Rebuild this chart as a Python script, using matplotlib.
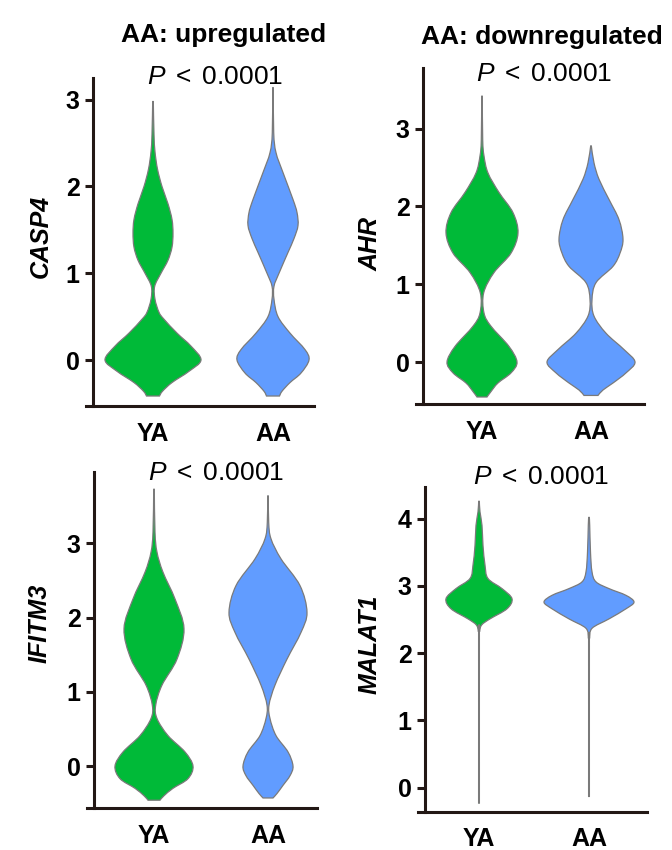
import numpy as np
import matplotlib
matplotlib.use("Agg")
import matplotlib.pyplot as plt
from matplotlib.path import Path
from matplotlib.patches import PathPatch

plt.rcParams["font.family"] = ["Liberation Sans", "DejaVu Sans"]
plt.rcParams["mathtext.fontset"] = "custom"
plt.rcParams["mathtext.it"] = "Liberation Sans:italic"
plt.rcParams["mathtext.rm"] = "Liberation Sans"

groups = ["YA", "AA"]
colors = ["#00BA38", "#619CFF"]
genes = ["CASP4", "AHR", "IFITM3", "MALAT1"]
titles = ["AA: upregulated", "AA: downregulated", "", ""]
pvalue_text = r"$P\,$ < $\,$0.0001"
yticks = [[0, 1, 2, 3], [0, 1, 2, 3], [0, 1, 2, 3], [0, 1, 2, 3, 4]]

# violin outlines: expression level and half-width (px)
casp4_ya_y = [-0.415, -0.36, -0.26, -0.13, 0.0, 0.16, 0.31, 0.47, 0.55, 0.7, 0.85, 1.0, 1.15, 1.3, 1.46, 1.62, 1.8, 2.0, 2.2, 2.4, 2.6, 2.98]
casp4_ya_w = [6.5, 9.5, 19, 36, 48, 38, 24, 11, 6, 2, 1.7, 8, 15, 19, 20, 19, 15, 9, 4.5, 2, 1, 0.3]
casp4_aa_y = [-0.415, -0.36, -0.26, -0.15, 0.0, 0.12, 0.31, 0.5, 0.7, 0.85, 1.0, 1.24, 1.4, 1.55, 1.7, 1.85, 2.16, 2.39, 2.62, 3.14]
casp4_aa_w = [6.5, 9, 17, 28, 36, 32, 17, 5, 1, 1, 6, 15, 21, 25, 24, 20, 10, 3, 0.7, 0.3]

ahr_ya_y = [-0.45, -0.38, -0.27, -0.14, 0.0, 0.2, 0.46, 0.63, 0.89, 1.15, 1.4, 1.66, 1.92, 2.18, 2.43, 2.65, 2.86, 3.42]
ahr_ya_w = [5, 9, 16, 29, 35, 27, 9, 2, 1.7, 12, 29, 36, 31, 17, 6, 2, 0.7, 0.3]
ahr_aa_y = [-0.43, -0.36, -0.27, -0.14, 0.0, 0.16, 0.37, 0.59, 0.8, 1.02, 1.23, 1.4, 1.58, 1.83, 2.09, 2.35, 2.56, 2.78]
ahr_aa_w = [7, 12, 22, 35, 44, 33, 15, 3, 1, 5, 22, 29, 32, 28, 18, 8, 3, 0.3]

ifitm3_ya_y = [-0.46, -0.4, -0.3, -0.17, 0.0, 0.19, 0.41, 0.64, 0.82, 1.09, 1.44, 1.85, 2.25, 2.61, 2.88, 3.15, 3.73]
ifitm3_ya_w = [6, 10, 19, 34, 39, 31, 14, 3, 1.7, 8, 23, 30, 21, 9, 3, 1, 0.3]
ifitm3_aa_y = [-0.43, -0.37, -0.26, -0.13, 0.0, 0.19, 0.41, 0.64, 0.82, 1.09, 1.44, 1.8, 2.07, 2.43, 2.79, 3.06, 3.28, 3.64]
ifitm3_aa_w = [5, 9, 15, 22, 25, 20, 8, 2, 1, 7, 19, 33, 39, 32, 13, 3, 0.7, 0.3]

malat1_ya_y = [-0.23, 2.2, 2.32, 2.42, 2.51, 2.66, 2.81, 2.96, 3.11, 3.31, 3.6, 3.9, 4.1, 4.26]
malat1_ya_w = [0.4, 0.4, 0.6, 2.7, 11, 28, 33, 23, 9, 6, 4, 3, 1, 0.3]
malat1_aa_y = [-0.13, 2.1, 2.22, 2.37, 2.51, 2.66, 2.76, 2.86, 2.96, 3.06, 3.21, 3.5, 3.9, 4.02]
malat1_aa_w = [0.4, 0.4, 0.6, 3, 20, 37, 45, 37, 20, 7, 3, 1.5, 0.7, 0.3]

profiles = [
    [(casp4_ya_y, casp4_ya_w), (casp4_aa_y, casp4_aa_w)],
    [(ahr_ya_y, ahr_ya_w), (ahr_aa_y, ahr_aa_w)],
    [(ifitm3_ya_y, ifitm3_ya_w), (ifitm3_aa_y, ifitm3_aa_w)],
    [(malat1_ya_y, malat1_ya_w), (malat1_aa_y, malat1_aa_w)],
]

W, H = 672, 850
fig = plt.figure(figsize=(W / 100, H / 100), dpi=100)
INK = "#231815"

# panel layout in pixels: left, top, right, bottom, spine x, violin centres, ylim
panels = [
    (86, 78, 314, 406, 93, (153, 273), (-0.53, 3.25)),
    (416, 68, 644, 404, 423, (482, 591), (-0.54, 3.78)),
    (87, 472, 317, 808, 94, (154, 268), (-0.565, 3.96)),
    (418, 487, 647, 812, 425, (479, 589), (-0.36, 4.47)),
]
xpads = [11.5, 11.5, 11.5, 11]
ylabel_xy = [(41, 236), (371, 244), (40, 623), (370, 644)]
title_xy = [(224, 42), (542, 44)]
pval_xy = [(215, 84), (544, 81), (216, 480), (541, 484)]


def smooth_side(pts, xc, sign):
    # Catmull-Rom through the outline points, as cubic Bezier segments
    n = len(pts)
    verts = []
    for i in range(n - 1):
        p0 = pts[max(i - 1, 0)]
        p1 = pts[i]
        p2 = pts[i + 1]
        p3 = pts[min(i + 2, n - 1)]
        c1 = p1 + (p2 - p0) / 6.0
        c2 = p2 - (p3 - p1) / 6.0
        for c in (c1, c2):
            if sign * (c[0] - xc) < 0:
                c[0] = xc
        verts += [c1, c2, p2]
    return verts


def violin(ax, xc, ys, ws, scale, color):
    ys = np.asarray(ys, float)
    hw = np.asarray(ws, float) / scale
    right = np.column_stack([xc + hw, ys])
    left = np.column_stack([xc - hw, ys])[::-1]
    verts = [right[0]]
    codes = [Path.MOVETO]
    rv = smooth_side(right, xc, 1)
    verts += rv
    codes += [Path.CURVE4] * len(rv)
    verts.append(left[0])
    codes.append(Path.LINETO)
    lv = smooth_side(left, xc, -1)
    verts += lv
    codes += [Path.CURVE4] * len(lv)
    verts.append(right[0])
    codes.append(Path.CLOSEPOLY)
    patch = PathPatch(Path(np.array(verts), codes), facecolor=color,
                      edgecolor="#7a7a7a", linewidth=0.9, zorder=3)
    ax.add_patch(patch)


for k, (l, t, r, b, sx, cen, ylim) in enumerate(panels):
    ax = fig.add_axes([l / W, 1 - b / H, (r - l) / W, (b - t) / H])
    px_per_unit = cen[1] - cen[0]
    ax.set_xlim((l - cen[0]) / px_per_unit, (r - cen[0]) / px_per_unit)
    ax.set_ylim(*ylim)
    for j, (ys, ws) in enumerate(profiles[k]):
        violin(ax, j, ys, ws, px_per_unit, colors[j])

    for s in ["top", "right"]:
        ax.spines[s].set_visible(False)
    ax.spines["left"].set_position(("axes", (sx - l) / (r - l)))
    for s in ["left", "bottom"]:
        ax.spines[s].set_linewidth(2.2)
        ax.spines[s].set_color(INK)

    ax.set_yticks(yticks[k])
    ax.set_xticks([0, 1])
    ax.set_xticklabels(groups)
    ax.tick_params(axis="y", length=5.5, width=2.2, color=INK, pad=4, labelsize=18)
    ax.tick_params(axis="x", length=0, pad=xpads[k], labelsize=18)
    for lab in ax.get_xticklabels() + ax.get_yticklabels():
        lab.set_fontweight("bold")
        lab.set_color("black")

    lx, ly = ylabel_xy[k]
    fig.text(lx / W, 1 - ly / H, genes[k], rotation=90, ha="center", va="center",
             fontsize=18, fontweight="bold", fontstyle="italic")
    px, py = pval_xy[k]
    fig.text(px / W, 1 - py / H, pvalue_text, ha="center", va="baseline", fontsize=19)
    if titles[k]:
        tx, ty = title_xy[k]
        fig.text(tx / W, 1 - ty / H, titles[k], ha="center", va="baseline",
                 fontsize=19, fontweight="bold")

fig.savefig("out.png", dpi=100)
